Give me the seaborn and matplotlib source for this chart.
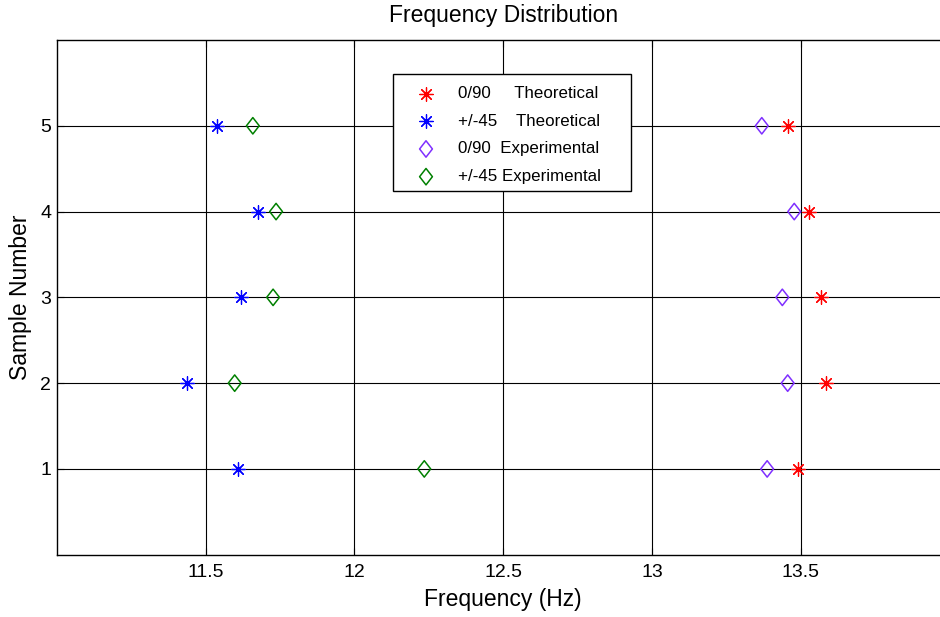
import numpy as np
import pandas as pd
import matplotlib
matplotlib.use("Agg")
import matplotlib.pyplot as plt
from matplotlib.path import Path
from matplotlib.patches import Rectangle
import seaborn as sns

samples = [1, 2, 3, 4, 5]
theo_090 = [13.49, 13.585, 13.568, 13.526, 13.456]
theo_45 = [11.609, 11.438, 11.618, 11.675, 11.539]
exp_090 = [13.387, 13.456, 13.438, 13.478, 13.369]
exp_45 = [12.235, 11.598, 11.727, 11.737, 11.659]

labels = ["0/90     Theoretical", "+/-45    Theoretical",
          "0/90  Experimental", "+/-45 Experimental"]
xticks = [11.5, 12, 12.5, 13, 13.5]
yticks = [1, 2, 3, 4, 5]

sns.set_theme(style="white")
plt.rcParams["font.family"] = ["Liberation Sans", "DejaVu Sans"]
plt.rcParams["text.color"] = "black"
plt.rcParams["axes.labelcolor"] = "black"

W, H = 940, 617
fig = plt.figure(figsize=(W / 100, H / 100), dpi=100)
ax = fig.add_axes([56.7 / W, (H - 554.7) / H, (949.6 - 56.7) / W, (554.7 - 40) / H])

asterisk = (8, 2, 0)
diamond = Path([(0, 1), (0.78, 0), (0, -1), (-0.78, 0), (0, 1)],
               [Path.MOVETO, Path.LINETO, Path.LINETO, Path.LINETO, Path.CLOSEPOLY])

sns.scatterplot(x=theo_090, y=samples, marker=asterisk, color="#ff0000", s=95,
                linewidth=0.9, label=labels[0], ax=ax, zorder=3)
sns.scatterplot(x=theo_45, y=samples, marker=asterisk, color="#0000ff", s=95,
                linewidth=0.9, label=labels[1], ax=ax, zorder=3)
sns.scatterplot(x=exp_090, y=samples, marker=diamond, facecolor="none",
                edgecolor="#7f2fff", s=140, linewidth=1.1, label=labels[2], ax=ax, zorder=3)
sns.scatterplot(x=exp_45, y=samples, marker=diamond, facecolor="none",
                edgecolor="#008000", s=140, linewidth=1.1, label=labels[3], ax=ax, zorder=3)

ax.set_xlim(11, 14)
ax.set_ylim(0, 6)
ax.set_xticks(xticks)
ax.set_xticklabels([f"{t:g}" for t in xticks])
ax.set_yticks(yticks)
ax.grid(True, color="black", linewidth=0.8)
ax.set_axisbelow(True)
for sp in ax.spines.values():
    sp.set_color("black")
    sp.set_linewidth(1.0)
ax.tick_params(direction="in", length=5, width=0.8, labelsize=14, colors="black",
               labelcolor="black", top=True, right=True, bottom=True, left=True)
ax.tick_params(axis="x", pad=7)
ax.tick_params(axis="y", pad=4)
ax.set_xlabel("Frequency (Hz)", fontsize=16.5, labelpad=5, color="black")
ax.set_ylabel("Sample Number", fontsize=16.5, labelpad=6, color="black")
ax.set_title("Frequency Distribution", fontsize=16.5, pad=13, color="black")

# legend frame (white box with black edge)
box = Rectangle((393 / W, (H - 191) / H), (631 - 393) / W, (191 - 74) / H,
                transform=fig.transFigure, facecolor="white", edgecolor="black",
                linewidth=1.0, zorder=4)
ax.add_artist(box)
box.set_clip_on(False)

fs = 12.2
fs_px = fs * 100 / 72
leg = ax.legend(loc="upper left",
                bbox_to_anchor=((426 - fs_px) / W, (H - 86) / H),
                bbox_transform=fig.transFigure,
                fontsize=fs, frameon=False, borderpad=0, labelspacing=0.75,
                handlelength=2.0, handletextpad=0.9, borderaxespad=0)
leg.set_zorder(5)
for t in leg.get_texts():
    t.set_color("black")

fig.savefig("out.png", dpi=100)
